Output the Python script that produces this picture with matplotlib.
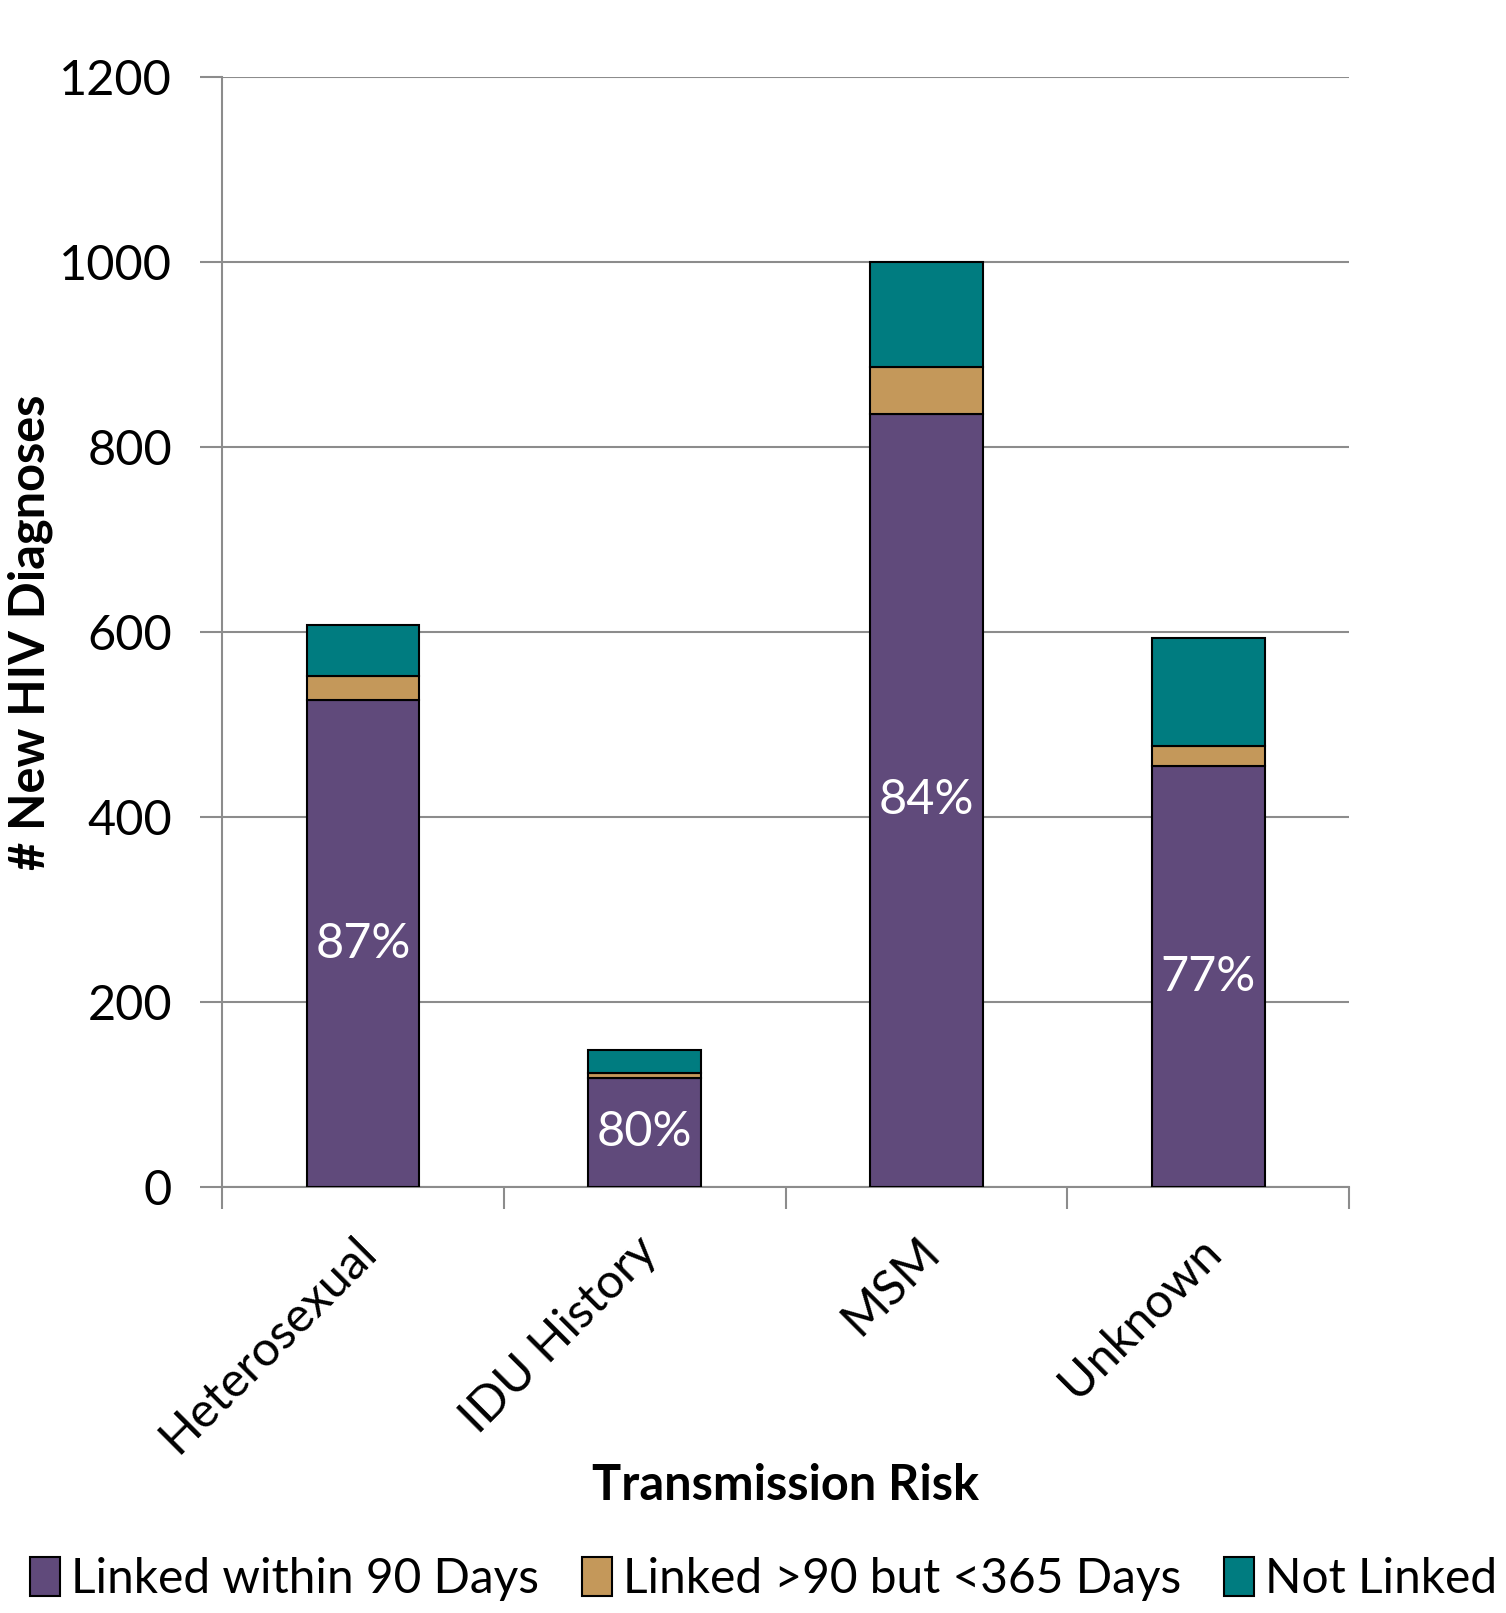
import numpy as np
import matplotlib.pyplot as plt
from matplotlib.patches import Patch
from matplotlib.transforms import ScaledTranslation

plt.rcParams['font.family'] = ['Lato', 'DejaVu Sans']

# Diagnoses by transmission risk, split by time to linkage to care
categories = ['Heterosexual', 'IDU History', 'MSM', 'Unknown']
linked_90 = [526, 118, 836, 455]
linked_365 = [26, 5, 50, 22]
not_linked = [56, 25, 114, 116]
pct_labels = ['87%', '80%', '84%', '77%']

series_names = ['Linked within 90 Days', 'Linked >90 but <365 Days', 'Not Linked']
colors = ['#604A7B', '#C4985A', '#007C80']

fs = 35

fig = plt.figure(figsize=(15.06, 16.13), dpi=100)
ax = fig.add_axes([0.1474, 0.2641, 0.7484, 0.6882])

x = np.arange(len(categories))
width = 0.40
bottom = np.zeros(len(categories))
for vals, col in zip([linked_90, linked_365, not_linked], colors):
    ax.bar(x, vals, width, bottom=bottom, color=col, edgecolor='black',
           linewidth=1.5, zorder=3)
    bottom += np.array(vals)

# percentage linked within 90 days, centred in the bottom segment
for xi, v, lab in zip(x, linked_90, pct_labels):
    ax.text(xi, v / 2, lab, color='white', fontsize=fs, ha='center', va='center', zorder=4)

ax.set_xlim(-0.5, len(categories) - 0.5)
ax.set_ylim(0, 1200)
ax.set_yticks(np.arange(0, 1201, 200))
ax.yaxis.grid(True, color='#8C8C8C', linewidth=1.5, zorder=0)
ax.tick_params(axis='y', labelsize=fs, length=16, width=1.5, color='#8C8C8C', pad=20)

# category ticks sit on the boundaries between bars
ax.set_xticks(np.arange(-0.5, len(categories), 1.0))
ax.set_xticklabels([])
ax.set_xticks(x, minor=True)
ax.set_xticklabels(categories, minor=True, rotation=45, ha='right',
                   rotation_mode='anchor', fontsize=fs)
ax.tick_params(axis='x', which='major', length=16, width=1.5, color='#8C8C8C')
ax.tick_params(axis='x', which='minor', length=0, pad=30)
shift = ScaledTranslation(-0.10, 0, fig.dpi_scale_trans)
for lab in ax.get_xticklabels(minor=True):
    lab.set_transform(lab.get_transform() + shift)

for side in ['top', 'right']:
    ax.spines[side].set_visible(False)
for side in ['left', 'bottom']:
    ax.spines[side].set_color('#8C8C8C')
    ax.spines[side].set_linewidth(1.5)

ax.set_xlabel('Transmission Risk', fontsize=fs, fontweight='bold')
ax.set_ylabel('# New HIV Diagnoses', fontsize=fs, fontweight='bold')
ax.xaxis.set_label_coords(0.5, -0.249)
ax.yaxis.set_label_coords(-0.150, 0.5)

handles = [Patch(facecolor=c, edgecolor='black', linewidth=1.5) for c in colors]
fig.legend(handles, series_names, loc='center', bbox_to_anchor=(0.507, 0.021), ncol=3,
           frameon=False, fontsize=34.5, handlelength=0.62, handleheight=0.85,
           handletextpad=0.23, columnspacing=0.9, borderpad=0, borderaxespad=0)

fig.savefig('out.png', dpi=100)
